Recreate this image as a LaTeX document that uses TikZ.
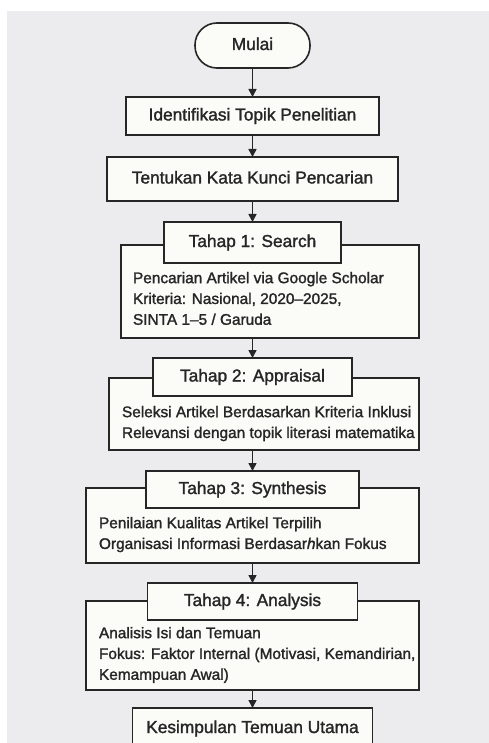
\documentclass[tikz,border=0pt]{standalone}
\usepackage{fontspec}
\setmainfont{Liberation Sans}[FakeBold=1.5]
\usetikzlibrary{positioning, arrows.meta}
\definecolor{bggray}{HTML}{ECECEE}
\definecolor{boxfill}{HTML}{FBFBF8}
\definecolor{linedark}{HTML}{262626}

\begin{document}
\begin{tikzpicture}[x=1pt, y=-1pt, node distance=0pt]
    \tikzset{
        box/.style={
            rectangle,
            draw=linedark,
            line width=1.6pt,
            fill=boxfill,
            text=linedark,
            inner sep=0pt,
            outer sep=0pt,
            text height=12.5pt,
            text depth=3.5pt,
            font=\fontsize{17.3}{20}\selectfont
        },
        terminal/.style={box, rounded corners=22pt},
        frame/.style={
            rectangle,
            draw=linedark,
            line width=1.6pt,
            fill=boxfill,
            inner sep=0pt,
            outer sep=0pt
        },
        bodytext/.style={
            inner sep=0pt,
            outer sep=0pt,
            align=left,
            text=linedark,
            font=\fontsize{15.4}{20.8}\selectfont
        },
        flow/.style={draw=linedark, line width=1.6pt, -{Triangle[length=8pt, width=8pt]}}
    }

    \useasboundingbox (0,0) rectangle (489,743);

    \begin{scope}
    \clip (7,11) rectangle (489,743);
    \fill[bggray] (7,11) rectangle (489,743);

    \node[terminal, minimum width=115pt, minimum height=45pt] (mulai) at (252.5,45.5) {Mulai};
    \node[box, minimum width=253pt, minimum height=38pt, below=29pt of mulai] (topik) {Identifikasi Topik Penelitian};
    \node[box, minimum width=291pt, minimum height=44pt, below=22pt of topik] (kunci) {Tentukan Kata Kunci Pencarian};

    \node[frame, minimum width=298pt, minimum height=93pt, below=44pt of kunci, xshift=17.5pt] (searchbox) {};
    \node[box, minimum width=177pt, minimum height=41pt, below=21pt of kunci] (searchhead) {Tahap 1: Search};
    \node[bodytext, below right=27pt and 12pt of searchbox.north west] (searchtxt)
        {Pencarian Artikel via Google Scholar\\Kriteria: Nasional, 2020–2025,\\SINTA 1–5 / Garuda};

    \node[frame, minimum width=310pt, minimum height=72pt, below=40pt of searchbox, xshift=-6pt] (appraisalbox) {};
    \node[box, minimum width=199pt, minimum height=38pt, below=20pt of searchbox, xshift=-17.5pt] (appraisalhead) {Tahap 2: Appraisal};
    \node[bodytext, below right=28pt and 13pt of appraisalbox.north west] (appraisaltxt)
        {Seleksi Artikel Berdasarkan Kriteria Inklusi\\Relevansi dengan topik literasi matematika};

    \node[frame, minimum width=333pt, minimum height=75pt, below=38pt of appraisalbox, xshift=-11.5pt] (synthesisbox) {};
    \node[box, minimum width=213pt, minimum height=37pt, below=21pt of appraisalbox, xshift=-11.5pt] (synthesishead) {Tahap 3: Synthesis};
    \node[bodytext, below right=29pt and 13pt of synthesisbox.north west] (synthesistxt)
        {Penilaian Kualitas Artikel Terpilih\\Organisasi Informasi Berdasar\textit{h}kan Fokus};

    \node[frame, minimum width=333pt, minimum height=89pt, below=38pt of synthesisbox] (analysisbox) {};
    \node[box, minimum width=210pt, minimum height=37pt, below=20pt of synthesisbox] (analysishead) {Tahap 4: Analysis};
    \node[bodytext, below right=26pt and 13pt of analysisbox.north west] (analysistxt)
        {Analisis Isi dan Temuan\\Fokus: Faktor Internal (Motivasi, Kemandirian,\\Kemampuan Awal)};

    \node[box, minimum width=240pt, minimum height=41pt, below=18pt of analysisbox] (kesimpulan) {Kesimpulan Temuan Utama};

    \draw[flow] (mulai) -- (topik);
    \draw[flow] (topik) -- (kunci);
    \draw[flow] (kunci) -- (searchhead);
    \draw[flow] (searchbox.south -| appraisalhead.north) -- (appraisalhead.north);
    \draw[flow] (appraisalbox.south -| synthesishead.north) -- (synthesishead.north);
    \draw[flow] (synthesisbox.south -| analysishead.north) -- (analysishead.north);
    \draw[flow] (analysisbox.south -| kesimpulan.north) -- (kesimpulan.north);
    \end{scope}
\end{tikzpicture}
\end{document}
